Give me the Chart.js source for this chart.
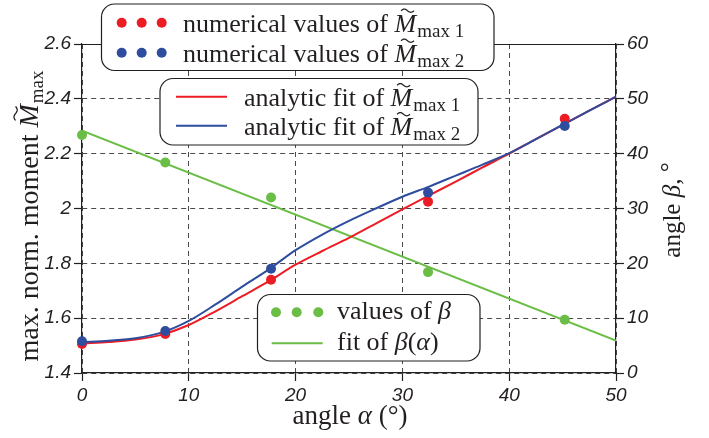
<!DOCTYPE html>
<html>
<head>
<meta charset="utf-8">
<script src="https://cdn.jsdelivr.net/npm/chart.js@4.4.1/dist/chart.umd.min.js"></script>
<style>
  html, body { margin: 0; padding: 0; background: #fff; }
  canvas { display: block; }
</style>
</head>
<body>
<canvas id="chart" width="709" height="438"></canvas>
<script>
// ---- data ----
const alphaNum = [0, 7.8, 17.7, 32.4, 45.2];
const mMax1Num = [1.506, 1.542, 1.740, 2.025, 2.327];
const mMax2Num = [1.516, 1.553, 1.780, 2.058, 2.301];
const betaNum = [43.4, 38.4, 32.0, 18.4, 9.7];

const alphaFit = [0, 2.5, 5, 7.5, 10, 12.5, 15, 17.5, 20, 22.5, 25, 27.5, 30, 32.5, 35, 37.5, 40, 42.5, 45, 47.5, 50];
const mMax1Fit = [1.508, 1.513, 1.522, 1.540, 1.575, 1.625, 1.680, 1.735, 1.795, 1.845, 1.893, 1.945, 1.997, 2.048, 2.098, 2.150, 2.200, 2.253, 2.305, 2.357, 2.408];
const mMax2Fit = [1.512, 1.518, 1.527, 1.548, 1.590, 1.650, 1.715, 1.778, 1.848, 1.905, 1.955, 2.000, 2.043, 2.080, 2.120, 2.160, 2.202, 2.253, 2.305, 2.357, 2.408];

const alphaBetaFit = [0, 50];
const betaFit = [44.2, 5.9];

const xTicks = [0, 10, 20, 30, 40, 50];
const yTicks = [1.4, 1.6, 1.8, 2.0, 2.2, 2.4, 2.6];
const y2Ticks = [0, 10, 20, 30, 40, 50, 60];

const RED = "#ec1c24";
const BLUE = "#2e4d9e";
const GREEN = "#6abd45";
const INK = "#231f20";
const SERIF = '"Liberation Serif", "DejaVu Serif", serif';
const SANS = '"Liberation Sans", Arial, sans-serif';

const pts = (xs, ys) => xs.map((x, i) => ({ x: x, y: ys[i] }));

// ---- rich text helpers ----
function drawTilde(ctx, cx, cy, w) {
  ctx.save();
  ctx.beginPath();
  for (let i = 0; i <= 20; i++) {
    const t = i / 20;
    const px = cx - w / 2 + w * t;
    const py = cy - 1.6 * Math.sin(2 * Math.PI * t);
    if (i === 0) ctx.moveTo(px, py);
    else ctx.lineTo(px, py);
  }
  ctx.lineWidth = 1.3;
  ctx.strokeStyle = INK;
  ctx.stroke();
  ctx.restore();
}

// parts: [{t, size, italic, dy, tilde}]
function runWidth(ctx, parts) {
  let w = 0;
  parts.forEach((p) => {
    ctx.font = `${p.italic ? "italic " : ""}${p.size}px ${SERIF}`;
    w += ctx.measureText(p.t).width + (p.gap || 0);
  });
  return w;
}

function drawRun(ctx, x, y, parts) {
  ctx.fillStyle = INK;
  ctx.textBaseline = "alphabetic";
  ctx.textAlign = "left";
  let cx = x;
  parts.forEach((p) => {
    ctx.font = `${p.italic ? "italic " : ""}${p.size}px ${SERIF}`;
    const w = ctx.measureText(p.t).width;
    ctx.fillText(p.t, cx, y + (p.dy || 0));
    if (p.tilde) drawTilde(ctx, cx + w * 0.6, y - p.size * 0.8, p.size * 0.5);
    cx += w + (p.gap || 0);
  });
  return cx - x;
}

function roundBox(ctx, x1, y1, x2, y2, r) {
  ctx.save();
  ctx.beginPath();
  ctx.roundRect(x1, y1, x2 - x1, y2 - y1, r);
  ctx.fillStyle = "#fff";
  ctx.fill();
  ctx.lineWidth = 1.2;
  ctx.strokeStyle = INK;
  ctx.stroke();
  ctx.restore();
}

function dots(ctx, xs, y, color) {
  ctx.save();
  ctx.fillStyle = color;
  xs.forEach((x) => {
    ctx.beginPath();
    ctx.arc(x, y, 5, 0, Math.PI * 2);
    ctx.fill();
  });
  ctx.restore();
}

function legLine(ctx, x1, x2, y, color) {
  ctx.save();
  ctx.beginPath();
  ctx.moveTo(x1, y);
  ctx.lineTo(x2, y);
  ctx.lineWidth = 2;
  ctx.strokeStyle = color;
  ctx.stroke();
  ctx.restore();
}

const FS = 26;
const SUB = 19;
const mSub = (n) => [
  { t: "M", size: FS, italic: true, tilde: true, gap: 1 },
  { t: "max " + n, size: SUB, dy: 5 },
];

const decorPlugin = {
  id: "decor",
  afterDraw(chart) {
    const ctx = chart.ctx;
    const a = chart.chartArea;

    // top frame line
    ctx.save();
    ctx.beginPath();
    ctx.moveTo(a.left, Math.round(a.top) + 0.5);
    ctx.lineTo(a.right, Math.round(a.top) + 0.5);
    ctx.lineWidth = 1.2;
    ctx.strokeStyle = INK;
    ctx.stroke();
    ctx.restore();

    // axis titles
    ctx.save();
    const xt = [
      { t: "angle ", size: 27 },
      { t: "α", size: 27, italic: true },
      { t: " (°)", size: 27 },
    ];
    drawRun(ctx, 350 - runWidth(ctx, xt) / 2, 424, xt);

    const yt = [
      { t: "max. norm. moment ", size: 28 },
      { t: "M", size: 28, italic: true, tilde: true, gap: 1 },
      { t: "max", size: 19, dy: 5 },
    ];
    ctx.save();
    ctx.translate(38, 216);
    ctx.rotate(-Math.PI / 2);
    drawRun(ctx, -runWidth(ctx, yt) / 2, 0, yt);
    ctx.restore();

    const y2t = [
      { t: "angle ", size: 25 },
      { t: "β", size: 25, italic: true },
      { t: ", ", size: 25 },
      { t: "°", size: 25, dy: -3 },
    ];
    ctx.save();
    ctx.translate(680, 210);
    ctx.rotate(-Math.PI / 2);
    drawRun(ctx, -runWidth(ctx, y2t) / 2, 0, y2t);
    ctx.restore();
    ctx.restore();

    // legend 1: numerical values
    roundBox(ctx, 101.5, 4, 494, 70.5, 13);
    dots(ctx, [121.7, 141.7, 161.7], 22.7, RED);
    dots(ctx, [121.7, 141.7, 161.7], 52.7, BLUE);
    drawRun(ctx, 183, 31.5, [{ t: "numerical values of ", size: FS }].concat(mSub(1)));
    drawRun(ctx, 183, 61.5, [{ t: "numerical values of ", size: FS }].concat(mSub(2)));

    // legend 2: analytic fits
    roundBox(ctx, 160, 78.5, 478, 145, 13);
    legLine(ctx, 176, 227, 96.7, RED);
    legLine(ctx, 176, 227, 125.7, BLUE);
    drawRun(ctx, 244, 106, [{ t: "analytic fit of ", size: FS }].concat(mSub(1)));
    drawRun(ctx, 244, 135, [{ t: "analytic fit of ", size: FS }].concat(mSub(2)));

    // legend 3: beta
    roundBox(ctx, 257.5, 294.5, 480, 361, 13);
    dots(ctx, [276, 296.7, 318.3], 312.3, GREEN);
    legLine(ctx, 271.7, 322.7, 343.3, GREEN);
    drawRun(ctx, 337, 319.3, [
      { t: "values of ", size: FS },
      { t: "β", size: FS, italic: true },
    ]);
    drawRun(ctx, 337, 350, [
      { t: "fit of ", size: FS },
      { t: "β", size: FS, italic: true },
      { t: "(", size: FS },
      { t: "α", size: FS, italic: true },
      { t: ")", size: FS },
    ]);
  },
};

const tickFont = { family: SANS, size: 19, style: "italic" };
const gridOpts = { color: "#4a4a4a", lineWidth: 1, tickColor: INK, tickLength: 8, tickWidth: 1.2 };

new Chart(document.getElementById("chart"), {
  type: "scatter",
  data: {
    datasets: [
      {
        label: "numerical values of M max 2",
        data: pts(alphaNum, mMax2Num),
        backgroundColor: BLUE,
        borderWidth: 0,
        pointRadius: 5,
        clip: false,
        yAxisID: "y",
        order: 0,
      },
      {
        label: "numerical values of M max 1",
        data: pts(alphaNum, mMax1Num),
        backgroundColor: RED,
        borderWidth: 0,
        pointRadius: 5,
        clip: false,
        yAxisID: "y",
        order: 1,
      },
      {
        label: "values of beta",
        data: pts(alphaNum, betaNum),
        backgroundColor: GREEN,
        borderWidth: 0,
        pointRadius: 5,
        clip: false,
        yAxisID: "y2",
        order: 2,
      },
      {
        label: "analytic fit of M max 2",
        data: pts(alphaFit, mMax2Fit),
        showLine: true,
        borderColor: BLUE,
        borderWidth: 2,
        pointRadius: 0,
        cubicInterpolationMode: "monotone",
        yAxisID: "y",
        order: 3,
      },
      {
        label: "analytic fit of M max 1",
        data: pts(alphaFit, mMax1Fit),
        showLine: true,
        borderColor: RED,
        borderWidth: 2,
        pointRadius: 0,
        cubicInterpolationMode: "monotone",
        yAxisID: "y",
        order: 4,
      },
      {
        label: "fit of beta(alpha)",
        data: pts(alphaBetaFit, betaFit),
        showLine: true,
        borderColor: GREEN,
        borderWidth: 2,
        pointRadius: 0,
        yAxisID: "y2",
        order: 5,
      },
    ],
  },
  options: {
    responsive: false,
    animation: false,
    events: [],
    layout: { padding: { top: 44, left: 0, right: 0, bottom: 0 } },
    plugins: { legend: { display: false }, tooltip: { enabled: false } },
    scales: {
      x: {
        type: "linear",
        min: 0,
        max: 50,
        afterBuildTicks: (s) => { s.ticks = xTicks.map((v) => ({ value: v })); },
        afterFit: (s) => { s.height = 65; },
        ticks: { font: tickFont, color: INK, padding: 3, maxRotation: 0 },
        grid: gridOpts,
        border: { color: INK, width: 1.2, dash: [5, 4] },
      },
      y: {
        type: "linear",
        position: "left",
        min: 1.4,
        max: 2.6,
        afterBuildTicks: (s) => { s.ticks = yTicks.map((v) => ({ value: v })); },
        afterFit: (s) => { s.width = 82; },
        ticks: {
          font: tickFont,
          color: INK,
          padding: 3,
          callback: (v) => String(+(+v).toFixed(1)),
        },
        grid: gridOpts,
        border: { color: INK, width: 1.2, dash: [5, 4] },
      },
      y2: {
        type: "linear",
        position: "right",
        min: 0,
        max: 60,
        afterBuildTicks: (s) => { s.ticks = y2Ticks.map((v) => ({ value: v })); },
        afterFit: (s) => { s.width = 93; },
        ticks: { font: tickFont, color: INK, padding: 3 },
        grid: Object.assign({}, gridOpts, { drawOnChartArea: false }),
        border: { color: INK, width: 1.2 },
      },
    },
  },
  plugins: [decorPlugin],
});
</script>
</body>
</html>
